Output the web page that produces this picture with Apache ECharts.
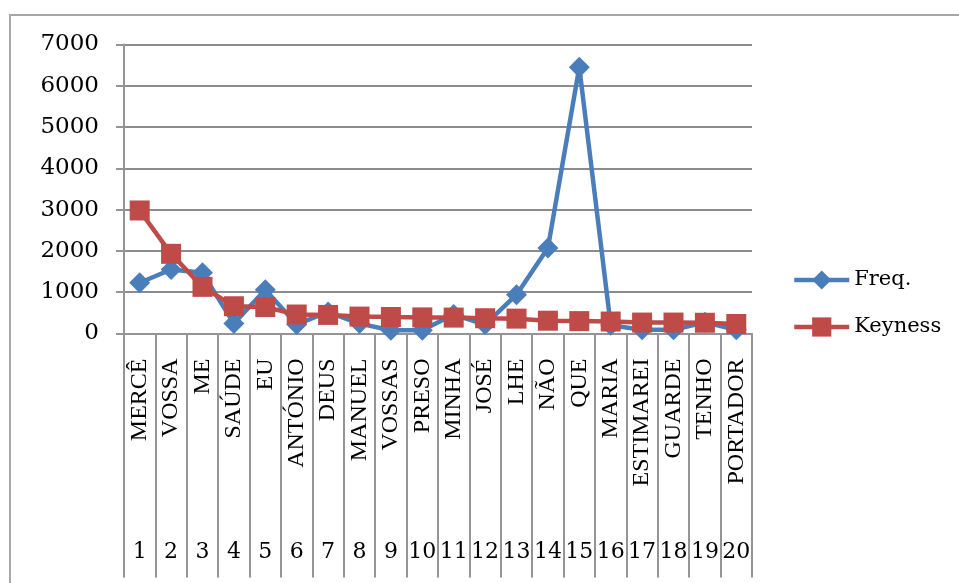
<!DOCTYPE html>
<html>
<head>
<meta charset="utf-8">
<script src="https://cdn.jsdelivr.net/npm/echarts@6/dist/echarts.min.js"></script>
<style>
html,body{margin:0;padding:0;background:#fff;}
#chart{width:959px;height:583px;}
</style>
</head>
<body>
<div id="chart"></div>
<script>
var words = ['MERCÊ','VOSSA','ME','SAÚDE','EU','ANTÓNIO','DEUS','MANUEL','VOSSAS','PRESO','MINHA','JOSÉ','LHE','NÃO','QUE','MARIA','ESTIMAREI','GUARDE','TENHO','PORTADOR'];
var ranks = ['1','2','3','4','5','6','7','8','9','10','11','12','13','14','15','16','17','18','19','20'];
var freq = [1230, 1550, 1470, 240, 1060, 220, 520, 240, 80, 80, 460, 215, 940, 2070, 6450, 200, 90, 90, 270, 90];
var keyness = [2980, 1930, 1130, 660, 640, 460, 450, 410, 400, 390, 385, 370, 360, 310, 300, 290, 265, 265, 260, 230];
var yTicks = [0, 1000, 2000, 3000, 4000, 5000, 6000, 7000];

var grey = '#949494';
var chart = echarts.init(document.getElementById('chart'), null, {renderer: 'canvas'});
chart.setOption({
  animation: false,
  backgroundColor: '#ffffff',
  graphic: [{
    type: 'rect',
    shape: {x: 10, y: 15, width: 1200, height: 1200},
    style: {fill: 'none', stroke: '#a6a6a6', lineWidth: 2},
    silent: true
  }],
  grid: {left: 124, right: 207, top: 44.5, bottom: 249.5, containLabel: false},
  legend: {
    orient: 'vertical',
    left: 792,
    top: 268,
    padding: 0,
    itemWidth: 55,
    itemHeight: 24,
    itemGap: 23,
    lineStyle: {width: 4.5},
    textStyle: {fontFamily: 'DejaVu Serif', fontSize: 21, color: '#000', lineHeight: 24},
    data: ['Freq.', 'Keyness']
  },
  xAxis: [{
    type: 'category',
    position: 'bottom',
    data: words,
    boundaryGap: true,
    axisLine: {show: true, lineStyle: {color: grey, width: 2}},
    axisTick: {show: true, interval: 0, length: 244, lineStyle: {color: grey, width: 2}},
    axisLabel: {interval: 0, rotate: 90, margin: 25, fontFamily: 'Liberation Serif', fontSize: 24, color: '#000'},
    splitLine: {show: false}
  }, {
    type: 'category',
    position: 'bottom',
    data: ranks,
    boundaryGap: true,
    axisLine: {show: false},
    axisTick: {show: false},
    axisLabel: {interval: 0, margin: 208, fontFamily: 'DejaVu Serif', fontSize: 22, color: '#000'},
    splitLine: {show: false}
  }],
  yAxis: {
    type: 'value',
    min: yTicks[0],
    max: yTicks[yTicks.length - 1],
    interval: 1000,
    axisLine: {show: true, lineStyle: {color: grey, width: 2}},
    axisTick: {show: true, length: 8, lineStyle: {color: grey, width: 2}},
    axisLabel: {margin: 25, fontFamily: 'DejaVu Serif', fontSize: 23, color: '#000', formatter: function (v) { return String(v); }},
    splitLine: {show: true, lineStyle: {color: '#8c8c8c', width: 2}}
  },
  series: [{
    name: 'Freq.',
    type: 'line',
    data: freq,
    symbol: 'diamond',
    symbolSize: 21,
    lineStyle: {color: '#4a7ebb', width: 4.5},
    itemStyle: {color: '#4a7ebb'},
    z: 2
  }, {
    name: 'Keyness',
    type: 'line',
    data: keyness,
    symbol: 'rect',
    symbolSize: 20,
    lineStyle: {color: '#be4b48', width: 4.5},
    itemStyle: {color: '#be4b48'},
    z: 3
  }]
});
</script>
</body>
</html>
